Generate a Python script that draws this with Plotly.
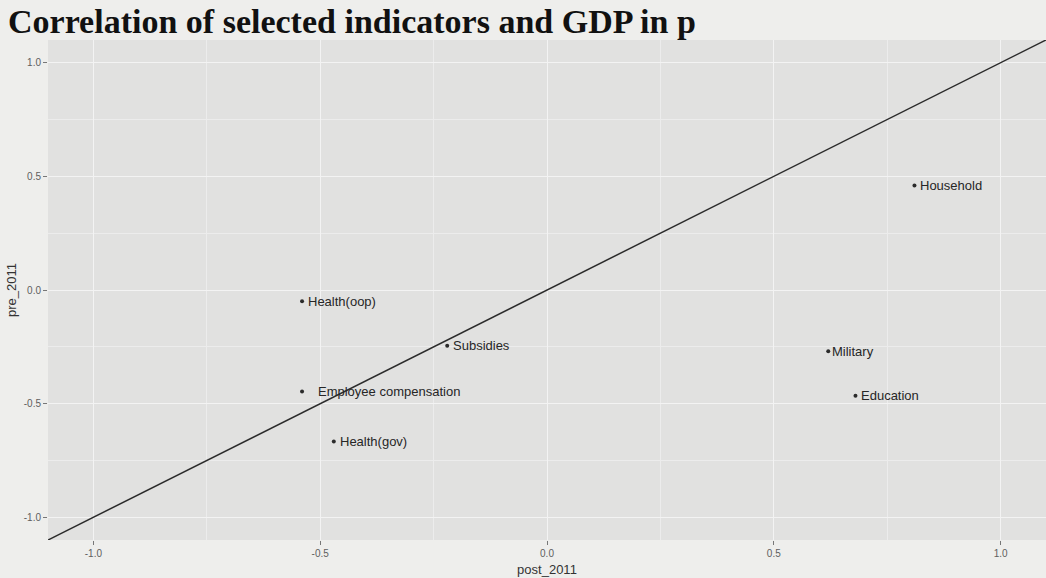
import plotly.graph_objects as go

# Data
indicators = ["Household", "Health(oop)", "Subsidies", "Military", "Education",
              "Employee compensation", "Health(gov)"]
post_2011 = [0.81, -0.54, -0.22, 0.62, 0.68, -0.54, -0.47]
pre_2011 = [0.46, -0.05, -0.245, -0.27, -0.465, -0.447, -0.667]
abline_intercept = 0.0
abline_slope = 1.0
axis_limits = [-1.0, 1.0]
tick_vals = [-1.0, -0.5, 0.0, 0.5, 1.0]
tick_text = ["-1.0", "-0.5", "0.0", "0.5", "1.0"]
title_text = "Correlation of selected indicators and GDP in p"

# style
label_xshift = [4, 4, 4, 2, 4, 14, 4]
expand = 0.05 * (axis_limits[1] - axis_limits[0])
rng = [axis_limits[0] - expand, axis_limits[1] + expand]

fig = go.Figure()

# y = x reference line (abline), evaluated across the axis range
line_x = rng
line_y = [abline_intercept + abline_slope * v for v in line_x]
fig.add_trace(go.Scatter(x=line_x, y=line_y, mode="lines",
                         line=dict(color="#2b2b2b", width=1.5),
                         hoverinfo="skip", showlegend=False, cliponaxis=True))

fig.add_trace(go.Scatter(x=post_2011, y=pre_2011, mode="markers",
                         marker=dict(color="#2b2b2b", size=4),
                         showlegend=False))

for xv, yv, lab, sh in zip(post_2011, pre_2011, indicators, label_xshift):
    fig.add_annotation(x=xv, y=yv, text=lab, showarrow=False, xanchor="left",
                       yanchor="middle", xshift=sh,
                       font=dict(family="Liberation Sans, Arial", size=13, color="#262626"))

fig.add_annotation(xref="paper", yref="paper", x=-42 / 998, y=1.0,
                   xanchor="left", yanchor="bottom", yshift=-2,
                   text="<b>" + title_text + "</b>", showarrow=False,
                   font=dict(family="Liberation Serif, Times New Roman", size=34, color="#111111"))

axis_common = dict(range=rng, tickvals=tick_vals, ticktext=tick_text,
                   showgrid=True, gridcolor="#f3f3f3", gridwidth=1.2,
                   zeroline=False, showline=False,
                   ticks="outside", ticklen=4, tickcolor="#777777", tickwidth=1,
                   tickfont=dict(family="Liberation Sans, Arial", size=10, color="#5e5e5e"),
                   minor=dict(dtick=0.25, tick0=0, showgrid=True, gridcolor="#ececec", gridwidth=0.6, ticks=""),
                   title_font=dict(family="Liberation Sans, Arial", size=13, color="#333333"))

fig.update_layout(
    width=1046, height=578,
    margin=dict(l=48, r=0, t=40, b=38),
    paper_bgcolor="#eeeeec",
    plot_bgcolor="#e1e1e0",
    xaxis=dict(axis_common, title=dict(text="post_2011", standoff=6)),
    yaxis=dict(axis_common, title=dict(text="pre_2011", standoff=4)),
)

fig.write_html("out.html", config={"displayModeBar": False},
               post_script="document.body.style.margin='0';document.body.style.background='#eeeeec';")
